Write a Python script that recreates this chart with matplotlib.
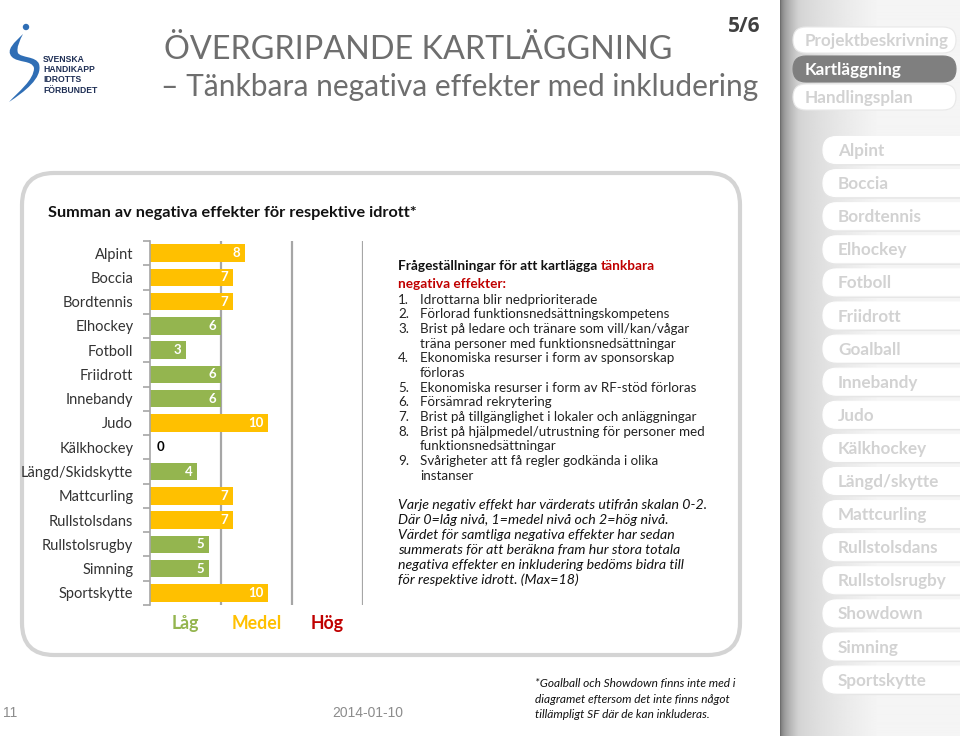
import matplotlib
matplotlib.use('Agg')
import matplotlib.pyplot as plt
import numpy as np
from matplotlib.patches import FancyBboxPatch, PathPatch, Circle
from matplotlib.path import Path

# ---------------- data ----------------
sports = ['Alpint', 'Boccia', 'Bordtennis', 'Elhockey', 'Fotboll', 'Friidrott',
          'Innebandy', 'Judo', 'Kälkhockey', 'Längd/Skidskytte', 'Mattcurling',
          'Rullstolsdans', 'Rullstolsrugby', 'Simning', 'Sportskytte']
values = [8, 7, 7, 6, 3, 6, 6, 10, 0, 4, 7, 7, 5, 5, 10]
level_labels = ['Låg', 'Medel', 'Hög']
level_bounds = [6, 12, 18]
nav_top = ['Projektbeskrivning', 'Kartläggning', 'Handlingsplan']
nav_sports = ['Alpint', 'Boccia', 'Bordtennis', 'Elhockey', 'Fotboll', 'Friidrott',
              'Goalball', 'Innebandy', 'Judo', 'Kälkhockey', 'Längd/skytte',
              'Mattcurling', 'Rullstolsdans', 'Rullstolsrugby', 'Showdown',
              'Simning', 'Sportskytte']
questions = [
    ['Idrottarna blir nedprioriterade'],
    ['Förlorad funktionsnedsättningskompetens'],
    ['Brist på ledare och tränare som vill/kan/vågar', 'träna personer med funktionsnedsättningar'],
    ['Ekonomiska resurser i form av sponsorskap', 'förloras'],
    ['Ekonomiska resurser i form av RF-stöd förloras'],
    ['Försämrad rekrytering'],
    ['Brist på tillgänglighet i lokaler och anläggningar'],
    ['Brist på hjälpmedel/utrustning för personer med', 'funktionsnedsättningar'],
    ['Svårigheter att få regler godkända i olika', 'instanser'],
]
note_lines = [
    'Varje negativ effekt har värderats utifrån skalan 0-2.',
    'Där 0=låg nivå, 1=medel nivå och 2=hög nivå.',
    'Värdet för samtliga negativa effekter har sedan',
    'summerats för att beräkna fram hur stora totala',
    'negativa effekter en inkludering bedöms bidra till',
    'för respektive idrott. (Max=18)',
]
footnote = ['*Goalball och Showdown finns inte med i',
            'diagramet eftersom det inte finns något',
            'tillämpligt SF där de kan inkluderas.']

GREEN = '#94B54F'
ORANGE = '#FFC000'
RED = '#C00000'
FONT = 'Lato'

W, H = 960, 736
fig = plt.figure(figsize=(W / 100, H / 100), dpi=100)
bg = fig.add_axes([0, 0, 1, 1])
bg.set_xlim(0, W)
bg.set_ylim(H, 0)
bg.axis('off')

# ---------------- sidebar ----------------
xs = np.linspace(0, 1, 360)
grad = np.where(xs < 0.10, 0.40 + (0.82 - 0.40) * (xs / 0.10) ** 0.5,
                0.82 + (0.96 - 0.82) * np.clip((xs - 0.10) / 0.45, 0, 1) ** 0.7)
img = np.tile(grad, (10, 1))
bg.imshow(img, cmap='gray', vmin=0, vmax=1, extent=[780, 960, 736, 0],
          aspect='auto', zorder=0, interpolation='bilinear')

def pill(x, yc, w, h, face, edge=None, z=2):
    p = FancyBboxPatch((x, yc - h / 2), w, h,
                       boxstyle='round,pad=0,rounding_size=%f' % (h / 2),
                       facecolor=face, edgecolor=edge if edge else face,
                       lw=0.8, zorder=z)
    bg.add_patch(p)

top_y = [40, 69, 97]
for name, y in zip(nav_top, top_y):
    active = name == 'Kartläggning'
    pill(793, y, 163, 26, '#7F7F7F' if active else '#FFFFFF',
         '#7F7F7F' if active else '#E8E8E8')
    bg.text(805, y + 1, name, fontsize=12.3, fontweight='bold', family=FONT,
            color='#FFFFFF' if active else '#D2D2D2', va='center', ha='left', zorder=3)

for i, name in enumerate(nav_sports):
    y = 150 + i * 33.1
    pill(823, y + 1.5, 160, 27, '#E6E6E6', z=1)
    pill(823, y, 160, 27, '#FFFFFF')
    bg.text(838, y + 1, name, fontsize=12.3, fontweight='bold', family=FONT,
            color='#D2D2D2', va='center', ha='left', zorder=3)

# ---------------- header ----------------
verts = [(23, 34), (15, 42), (5, 50), (12, 57),
         (18, 63), (32, 60), (34, 68),
         (34, 80), (18, 92), (9, 102),
         (24, 92), (43, 78), (39, 64),
         (36, 56), (21, 58), (18, 53),
         (16, 48), (20, 40), (23, 34), (23, 34)]
codes = [Path.MOVETO] + [Path.CURVE4] * 18 + [Path.CLOSEPOLY]
bg.add_patch(PathPatch(Path(verts, codes), facecolor='#2F6EB5', edgecolor='none', zorder=2))
bg.add_patch(Circle((26, 27), 3.2, facecolor='#2F6EB5', edgecolor='none', zorder=2))
for j, t in enumerate(['SVENSKA', 'HANDIKAPP', 'IDROTTS', 'FÖRBUNDET']):
    bg.text(43, 59 + j * 10.5, t, fontsize=6.2, fontweight='bold', family='Liberation Sans',
            color='#1F2F55', va='center', ha='left')

bg.text(164, 50, 'ÖVERGRIPANDE KARTLÄGGNING', fontsize=23.3, family=FONT,
        color='#6E6E6E', va='center', ha='left')
bg.text(161, 87, '– Tänkbara negativa effekter med inkludering', fontsize=21.5,
        family=FONT, color='#6E6E6E', va='center', ha='left')
bg.text(760, 26, '5/6', fontsize=15, fontweight='bold', family='Open Sans',
        color='#404040', va='center', ha='right')

# ---------------- main panel ----------------
panel = FancyBboxPatch((22, 173), 718, 482,
                       boxstyle='round,pad=0,rounding_size=32',
                       facecolor='white', edgecolor='#D4D4D4', lw=3, zorder=1)
bg.add_patch(panel)
bg.text(48, 213, 'Summan av negativa effekter för respektive idrott*', fontsize=11.7,
        fontweight='bold', family=FONT, color='#111111', va='center', ha='left', zorder=3)

# ---------------- bar chart ----------------
ax = fig.add_axes([150 / W, (H - 605) / H, 213 / W, 364 / H])
ax.patch.set_alpha(0)
n = len(sports)
ypos = np.arange(n)
colors = [GREEN if v <= level_bounds[0] else ORANGE for v in values]
ax.barh(ypos, values, height=0.72, color=colors, zorder=2)
for b in level_bounds:
    ax.axvline(b, color='#A6A6A6', lw=1.6, zorder=1)
ax.set_xlim(0, level_bounds[-1])
ax.set_ylim(n - 0.5, -0.5)
for s in ['top', 'right', 'bottom']:
    ax.spines[s].set_visible(False)
ax.spines['left'].set_color('#A6A6A6')
ax.spines['left'].set_linewidth(1.2)
ax.set_xticks([])
ax.set_yticks(ypos)
ax.set_yticklabels(sports, fontsize=10.5, family=FONT, color='#333333')
ax.tick_params(axis='y', which='major', length=0, pad=12)
ax.set_yticks(np.arange(-0.5, n, 1), minor=True)
ax.tick_params(axis='y', which='minor', length=5, color='#A6A6A6', width=1.2)
for y, v in zip(ypos, values):
    if v > 0:
        ax.text(v - 0.4, y, str(v), color='white', fontweight='bold', fontsize=9.5,
                family=FONT, va='center', ha='right', zorder=3)
    else:
        ax.text(0.6, y, str(v), color='black', fontweight='bold', fontsize=9.5,
                family=FONT, va='center', ha='left', zorder=3)

lvl_colors = [GREEN, ORANGE, RED]
starts = [0] + level_bounds[:-1]
for lab, s, e, c in zip(level_labels, starts, level_bounds, lvl_colors):
    ax.text((s + e) / 2, -0.05, lab, transform=ax.get_xaxis_transform(),
            color=c, fontweight='bold', fontsize=12.8, family=FONT,
            va='center', ha='center')

# ---------------- text block ----------------
FS = 9.6
t1 = bg.text(398, 266, 'Frågeställningar för att kartlägga ', fontsize=FS + 0.2,
             fontweight='bold', family=FONT, color='#111111', va='center', ha='left', zorder=3)
fig.canvas.draw()
bb = t1.get_window_extent(renderer=fig.canvas.get_renderer())
bg.text(bb.x1, H - 266, 'tänkbara', fontsize=FS + 0.2, fontweight='bold', family=FONT,
        color=RED, va='center', ha='left', transform=None, zorder=3)
bg.text(398, 284, 'negativa effekter:', fontsize=FS + 0.2, fontweight='bold', family=FONT,
        color=RED, va='center', ha='left', zorder=3)

y = 299.5
for k, lines in enumerate(questions):
    bg.text(398, y, '%d.' % (k + 1), fontsize=FS, family=FONT, color='#222222',
            va='center', ha='left', zorder=3)
    for ln in lines:
        bg.text(420, y, ln, fontsize=FS, family=FONT, color='#222222',
                va='center', ha='left', zorder=3)
        y += 14.7

for j, ln in enumerate(note_lines):
    bg.text(398, 505 + j * 15, ln, fontsize=10.2, family=FONT, style='italic',
            color='#111111', va='center', ha='left', zorder=3)

# ---------------- footer ----------------
bg.text(3, 713, '11', fontsize=10, family='Liberation Sans', color='#8C8C8C',
        va='center', ha='left')
bg.text(368, 713, '2014-01-10', fontsize=10, family='Liberation Sans', color='#8C8C8C',
        va='center', ha='center')
for j, ln in enumerate(footnote):
    bg.text(535, 684 + j * 15.5, ln, fontsize=8.6, family=FONT, style='italic',
            color='#111111', va='center', ha='left')

fig.savefig('out.png', dpi=100)
